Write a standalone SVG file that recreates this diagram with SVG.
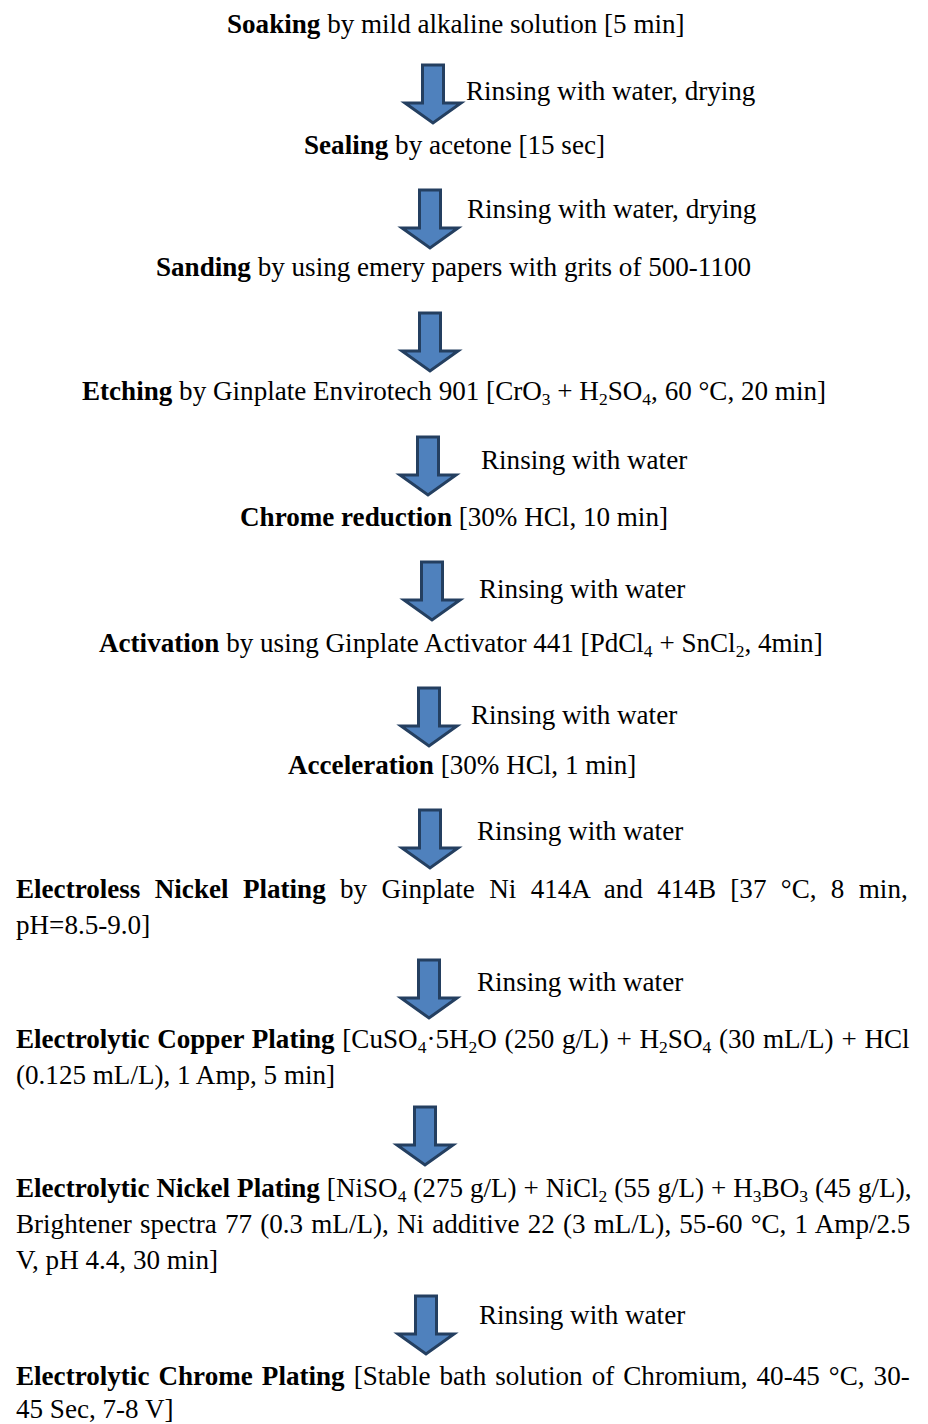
<svg xmlns="http://www.w3.org/2000/svg" width="928" height="1424" viewBox="0 0 928 1424">
<style>
text{font-family:"Liberation Serif","Times New Roman",serif;font-size:27.1px;fill:#000}
.b{font-weight:bold}
.s{font-size:17.5px}
.arrow{fill:#4f81bd;stroke:#243f60;stroke-width:3;stroke-linejoin:miter}
</style>
<defs>
<path id="arr" d="M-10.5,0 H10.5 V38 H28 L0,58 L-28,38 H-10.5 Z"/>
</defs>
<rect width="928" height="1424" fill="#fff"/>
<g id="connectors">
<use href="#arr" class="arrow" x="433" y="65"/>
<use href="#arr" class="arrow" x="430" y="190"/>
<use href="#arr" class="arrow" x="430" y="313"/>
<use href="#arr" class="arrow" x="428" y="437"/>
<use href="#arr" class="arrow" x="432" y="562"/>
<use href="#arr" class="arrow" x="429" y="688"/>
<use href="#arr" class="arrow" x="430" y="810"/>
<use href="#arr" class="arrow" x="429" y="960"/>
<use href="#arr" class="arrow" x="425" y="1107"/>
<use href="#arr" class="arrow" x="426" y="1296"/>
</g>
<g id="labels">
<text x="466" y="100">Rinsing with water, drying</text>
<text x="467" y="218">Rinsing with water, drying</text>
<text x="481" y="469">Rinsing with water</text>
<text x="479" y="598">Rinsing with water</text>
<text x="471" y="724">Rinsing with water</text>
<text x="477" y="840">Rinsing with water</text>
<text x="477" y="991">Rinsing with water</text>
<text x="479" y="1324">Rinsing with water</text>
</g>
<g id="soaking"><text x="227" y="33"><tspan class="b">Soaking</tspan> by mild alkaline solution [5 min]</text></g>
<g id="sealing"><text x="304" y="154"><tspan class="b">Sealing</tspan> by acetone [15 sec]</text></g>
<g id="sanding"><text x="156" y="276"><tspan class="b">Sanding</tspan> by using emery papers with grits of 500-1100</text></g>
<g id="etching"><text x="82" y="400"><tspan class="b">Etching</tspan> by Ginplate Envirotech 901 [CrO<tspan class="s" dy="5">3</tspan><tspan dy="-5"> + H</tspan><tspan class="s" dy="5">2</tspan><tspan dy="-5">SO</tspan><tspan class="s" dy="5">4</tspan><tspan dy="-5">, 60 °C, 20 min]</tspan></text></g>
<g id="chrome-reduction"><text x="240" y="526"><tspan class="b">Chrome reduction</tspan> [30% HCl, 10 min]</text></g>
<g id="activation"><text x="99" y="652"><tspan class="b">Activation</tspan> by using Ginplate Activator 441 [PdCl<tspan class="s" dy="5">4</tspan><tspan dy="-5"> + SnCl</tspan><tspan class="s" dy="5">2</tspan><tspan dy="-5">, 4min]</tspan></text></g>
<g id="acceleration"><text x="288" y="774"><tspan class="b">Acceleration</tspan> [30% HCl, 1 min]</text></g>
<g id="electroless-nickel">
<text x="16" y="898" word-spacing="7.6"><tspan class="b">Electroless Nickel Plating</tspan> by Ginplate Ni 414A and 414B [37 °C, 8 min,</text>
<text x="16" y="934">pH=8.5-9.0]</text>
</g>
<g id="copper-plating">
<text x="16" y="1048" word-spacing="1.0"><tspan class="b">Electrolytic Copper Plating</tspan> [CuSO<tspan class="s" dy="5">4</tspan><tspan dy="-5">·5H</tspan><tspan class="s" dy="5">2</tspan><tspan dy="-5">O (250 g/L) + H</tspan><tspan class="s" dy="5">2</tspan><tspan dy="-5">SO</tspan><tspan class="s" dy="5">4</tspan><tspan dy="-5"> (30 mL/L) + HCl</tspan></text>
<text x="16" y="1084">(0.125 mL/L), 1 Amp, 5 min]</text>
</g>
<g id="nickel-plating">
<text x="16" y="1197" word-spacing="0.2"><tspan class="b">Electrolytic Nickel Plating</tspan> [NiSO<tspan class="s" dy="5">4</tspan><tspan dy="-5"> (275 g/L) + NiCl</tspan><tspan class="s" dy="5">2</tspan><tspan dy="-5"> (55 g/L) + H</tspan><tspan class="s" dy="5">3</tspan><tspan dy="-5">BO</tspan><tspan class="s" dy="5">3</tspan><tspan dy="-5"> (45 g/L),</tspan></text>
<text x="16" y="1233" word-spacing="1.4">Brightener spectra 77 (0.3 mL/L), Ni additive 22 (3 mL/L), 55-60 °C, 1 Amp/2.5</text>
<text x="16" y="1269">V, pH 4.4, 30 min]</text>
</g>
<g id="chrome-plating">
<text x="16" y="1385" word-spacing="2.3"><tspan class="b">Electrolytic Chrome Plating</tspan> [Stable bath solution of Chromium, 40-45 °C, 30-</text>
<text x="16" y="1418">45 Sec, 7-8 V]</text>
</g>
</svg>
